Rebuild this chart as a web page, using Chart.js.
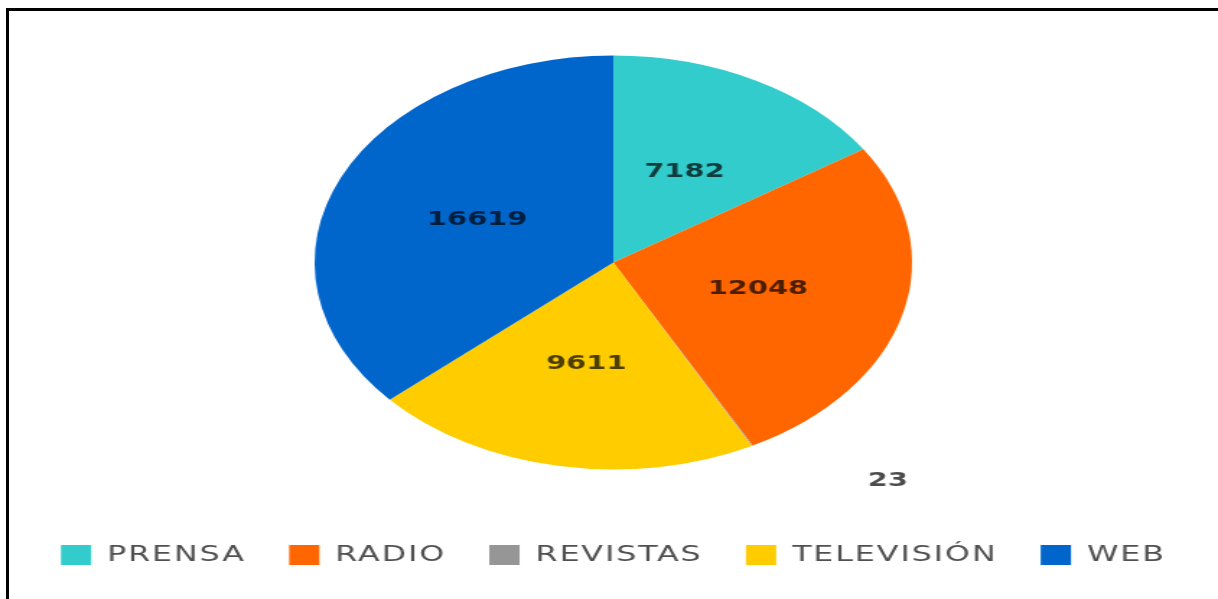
<!DOCTYPE html>
<html>
<head>
<meta charset="utf-8">
<script src="https://cdn.jsdelivr.net/npm/chart.js@4.4.0/dist/chart.umd.min.js"></script>
<style>
  html, body { margin: 0; padding: 0; background: #fff; overflow: hidden; }
  /* the chart is drawn narrow and stretched sideways, so the pie comes out oval */
  #stage { position: absolute; left: 0; top: 0; width: 844px; height: 599px; transform: scaleX(1.4431); transform-origin: 0 0; }
  #frame { position: absolute; left: 6px; top: 8px; right: 0; bottom: 0; border-top: 3px solid #000; border-left: 3px solid #000; }
</style>
</head>
<body>
<div id="stage"><canvas id="pieChart"></canvas></div>
<div id="frame"></div>
<script>
const categories = ['PRENSA', 'RADIO', 'REVISTAS', 'TELEVISIÓN', 'WEB'];
const mentions = [7182, 12048, 23, 9611, 16619];
const sliceColors = ['#33CCCC', '#FF6600', '#969696', '#FFCC00', '#0066CC'];

// wide lettering for the legend only
const legendSpacing = {
  id: 'legendSpacing',
  beforeLayout(chart) { chart.ctx.letterSpacing = '1.3px'; },
  afterLayout(chart) { chart.ctx.letterSpacing = '0px'; },
  beforeDraw(chart) { chart.ctx.letterSpacing = '1.3px'; },
  beforeDatasetsDraw(chart) { chart.ctx.letterSpacing = '0px'; }
};

// value written on each slice; very thin slices get it outside the rim
const valueLabels = {
  id: 'valueLabels',
  afterDatasetsDraw(chart) {
    const ctx = chart.ctx;
    const meta = chart.getDatasetMeta(0);
    const total = mentions.reduce((a, b) => a + b, 0);
    ctx.save();
    ctx.letterSpacing = '0px';
    ctx.font = 'bold 20px "DejaVu Sans"';
    ctx.fillStyle = 'rgba(0, 0, 0, 0.7)';
    ctx.textAlign = 'center';
    ctx.textBaseline = 'middle';
    meta.data.forEach((arc, i) => {
      const value = mentions[i];
      const p = arc.getProps(['x', 'y', 'startAngle', 'endAngle', 'outerRadius'], true);
      const mid = (p.startAngle + p.endAngle) / 2;
      let lx, ly;
      if (value / total < 0.02) {
        lx = p.x + Math.cos(mid) * p.outerRadius + 94;
        ly = p.y + Math.sin(mid) * p.outerRadius + 35;
      } else {
        lx = p.x + Math.cos(mid) * p.outerRadius * 0.5;
        ly = p.y + Math.sin(mid) * p.outerRadius * 0.5;
      }
      ctx.fillText(String(value), lx, ly);
    });
    ctx.restore();
  }
};

const ctx = document.getElementById('pieChart').getContext('2d');
new Chart(ctx, {
  type: 'pie',
  data: {
    labels: categories,
    datasets: [{
      data: mentions,
      backgroundColor: sliceColors,
      borderWidth: 0,
      radius: 207
    }]
  },
  options: {
    responsive: true,
    maintainAspectRatio: false,
    animation: false,
    events: [],
    layout: { padding: { top: 11, bottom: 23, left: 6, right: 0 } },
    plugins: {
      tooltip: { enabled: false },
      legend: {
        position: 'bottom',
        labels: {
          boxWidth: 21,
          boxHeight: 20,
          padding: 30,
          color: '#505050',
          font: { family: "'DejaVu Sans', sans-serif", size: 22 }
        }
      }
    }
  },
  plugins: [legendSpacing, valueLabels]
});
</script>
</body>
</html>
